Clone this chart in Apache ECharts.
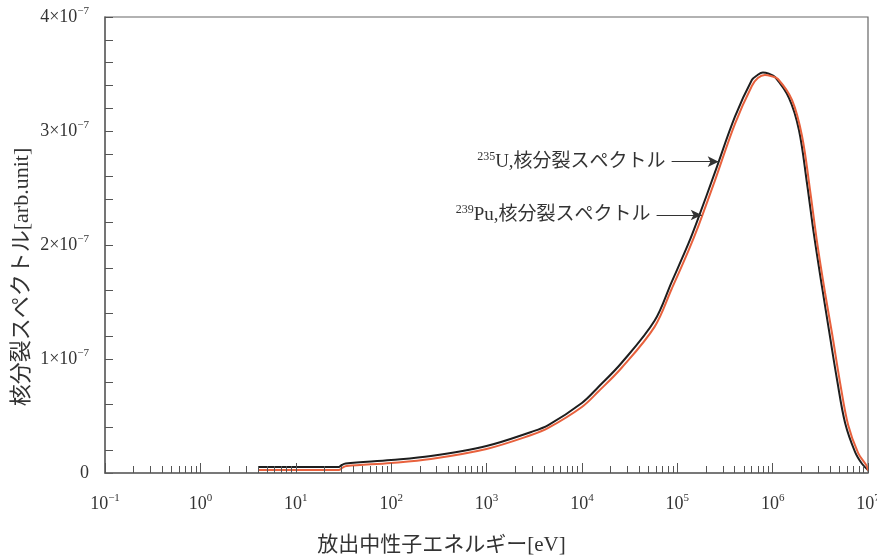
<!DOCTYPE html>
<html>
<head>
<meta charset="utf-8">
<title>核分裂スペクトル</title>
<script src="https://cdn.jsdelivr.net/npm/echarts@6/dist/echarts.min.js"></script>
<style>
  html, body { margin: 0; padding: 0; background: #fff; }
  #chart { width: 877px; height: 559px; }
</style>
</head>
<body>
<div id="chart"></div>
<script>
// Neutron energy [eV] and spectrum values (units of 1e-7, arb. unit)
const u235Energy = [4.06, 28.2, 30.3, 33.4, 100, 261, 1000, 2944, 4446, 1e4, 14890, 26000, 57810, 87300,
  131800, 167900, 247200, 401800, 605300, 684000, 790700, 914000, 1057000, 1486000, 1888000, 2291000,
  2716000, 3296000, 3908000, 4742000, 5754000, 7328000, 8690000, 1e7];
const u235Spectrum = [0.053, 0.053, 0.070, 0.083, 0.114, 0.149, 0.237, 0.36, 0.42, 0.614, 0.754, 0.965, 1.335, 1.675,
  2.018, 2.246, 2.632, 3.123, 3.447, 3.487, 3.513, 3.502, 3.474, 3.289, 3.009, 2.544,
  2.088, 1.632, 1.246, 0.816, 0.439, 0.184, 0.079, 0.026];

const pu239Energy = [4.06, 28.2, 31.0, 34.2, 100, 261, 1000, 2944, 4446, 1e4, 14890, 26000, 57810, 87300,
  131800, 167900, 247200, 401800, 605300, 700000, 829800, 959000, 1137000, 1596000, 2033000, 2468000,
  2924000, 3548000, 4207000, 5105000, 6194000, 7888000, 9570000, 1e7];
const pu239Spectrum = [0.026, 0.026, 0.048, 0.061, 0.088, 0.123, 0.211, 0.333, 0.395, 0.579, 0.715, 0.921, 1.282, 1.614,
  1.956, 2.175, 2.561, 3.061, 3.395, 3.465, 3.491, 3.482, 3.456, 3.272, 2.956, 2.482,
  2.026, 1.579, 1.219, 0.789, 0.421, 0.175, 0.070, 0.022];

// Axis ticks
const decadeTicks = [0.1, 1, 10, 100, 1000, 1e4, 1e5, 1e6, 1e7];
const minorMultipliers = [2, 3, 4, 5, 6, 7, 8, 9];
const yTickValues = [0, 1, 2, 3, 4];

// Annotation arrows: [startEnergy, tipEnergy, level]
const u235Arrow = [87300, 272000, 2.731];
const pu239Arrow = [60700, 180700, 2.263];

const minorTicks = [];
decadeTicks.slice(0, -1).forEach(d => minorMultipliers.forEach(m => minorTicks.push(+(d * m).toPrecision(3))));

const SERIF = "'Liberation Serif', 'Noto Sans CJK JP', serif";
const TXT = '#333';
const AXIS = '#666';

function supLabel(base, exp) {
  return '{m|' + base + '}{e|' + exp + '}';
}

const chart = echarts.init(document.getElementById('chart'));
const toPairs = (xs, ys) => xs.map((x, i) => [x, ys[i]]);

const annotationRich = {
  s: { fontFamily: SERIF, fontSize: 12, color: TXT, verticalAlign: 'top', lineHeight: 22 },
  t: { fontFamily: SERIF, fontSize: 19, color: TXT, lineHeight: 22 }
};

function arrowLine(arrow, sup, rest) {
  return {
    silent: true,
    symbol: ['none', 'arrow'],
    symbolSize: [8, 11],
    lineStyle: { color: '#333', width: 1.2, type: 'solid' },
    itemStyle: { color: '#222' },
    label: {
      show: true,
      position: 'start',
      distance: 6,
      formatter: '{s|' + sup + '}{t|' + rest + '}',
      rich: annotationRich
    },
    emphasis: { disabled: true },
    data: [[{ coord: [arrow[0], arrow[2]] }, { coord: [arrow[1], arrow[2]] }]]
  };
}

const option = {
  animation: false,
  backgroundColor: '#fff',
  grid: {
    left: 105, right: 9, top: 17, bottom: 86,
    outerBoundsMode: 'none',
    containLabel: false,
    show: true, borderColor: AXIS, borderWidth: 1.2, backgroundColor: 'transparent'
  },
  xAxis: [
    {
      type: 'log', logBase: 10, min: 0.1, max: 1e7, position: 'bottom', z: 5,
      axisLine: { show: true, lineStyle: { color: AXIS, width: 1.5 } },
      axisTick: { show: true, inside: true, length: 10, customValues: decadeTicks, lineStyle: { color: '#555', width: 1 } },
      minorTick: { show: false },
      splitLine: { show: false },
      axisLabel: {
        customValues: decadeTicks,
        margin: 20,
        formatter: v => {
          const e = Math.round(Math.log10(v));
          return supLabel('10', e < 0 ? '−' + (-e) : String(e));
        },
        rich: {
          m: { fontFamily: SERIF, fontSize: 18, color: TXT, lineHeight: 22 },
          e: { fontFamily: SERIF, fontSize: 11, color: TXT, verticalAlign: 'top', lineHeight: 22 }
        }
      },
      name: '放出中性子エネルギー[eV]',
      nameLocation: 'middle',
      nameGap: 62,
      nameTextStyle: { fontFamily: SERIF, fontSize: 21, color: TXT, padding: [0, 90, 0, 0] }
    },
    {
      type: 'log', logBase: 10, min: 0.1, max: 1e7, position: 'bottom', z: 5,
      axisLine: { show: false },
      axisTick: { show: true, inside: true, length: 7, customValues: minorTicks, lineStyle: { color: '#555', width: 1 } },
      axisLabel: { show: false },
      splitLine: { show: false }
    }
  ],
  yAxis: {
    type: 'value', min: 0, max: 4, interval: 1,
    axisLine: { show: true, lineStyle: { color: AXIS, width: 1.5 } },
    axisTick: { show: true, inside: true, length: 8, lineStyle: { color: '#555', width: 1 } },
    minorTick: { show: true, splitNumber: 5, length: 8, lineStyle: { color: '#555', width: 1 } },
    splitLine: { show: false },
    axisLabel: {
      customValues: yTickValues,
      margin: 16,
      formatter: v => (v === 0 ? '{m|0}' : supLabel(v + '×10', '−7')),
      rich: {
        m: { fontFamily: SERIF, fontSize: 18, color: TXT, lineHeight: 22 },
        e: { fontFamily: SERIF, fontSize: 11, color: TXT, verticalAlign: 'top', lineHeight: 22 }
      }
    },
    name: '核分裂スペクトル[arb.unit]',
    nameLocation: 'middle',
    nameGap: 72,
    nameMoveOverlap: false,
    nameTextStyle: { fontFamily: SERIF, fontSize: 22, color: TXT, padding: [0, 64, 0, 0] }
  },
  series: [
    {
      name: '235U',
      type: 'line',
      data: toPairs(u235Energy, u235Spectrum),
      showSymbol: false,
      smooth: 0.35,
      lineStyle: { color: '#1e1e1e', width: 2 },
      z: 2,
      markLine: arrowLine(u235Arrow, '235', 'U,核分裂スペクトル')
    },
    {
      name: '239Pu',
      type: 'line',
      data: toPairs(pu239Energy, pu239Spectrum),
      showSymbol: false,
      smooth: 0.35,
      lineStyle: { color: '#e8613d', width: 2 },
      z: 3,
      markLine: arrowLine(pu239Arrow, '239', 'Pu,核分裂スペクトル')
    }
  ]
};

chart.setOption(option);
</script>
</body>
</html>
